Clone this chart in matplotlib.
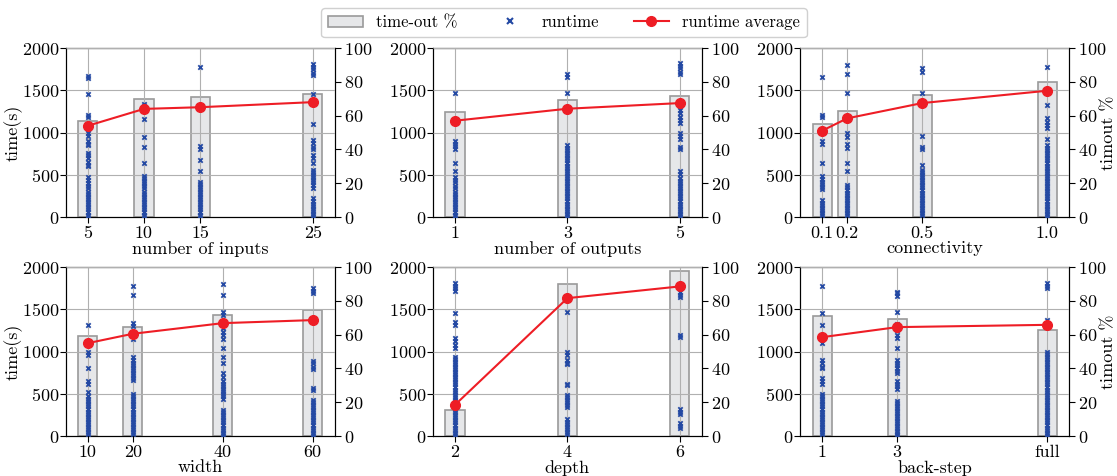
import numpy as np
import matplotlib
matplotlib.use("Agg")
from matplotlib import pyplot as plt
from matplotlib.patches import Patch
from matplotlib.lines import Line2D

plt.rcParams['font.family'] = ['cmr10', 'DejaVu Serif']
plt.rcParams['mathtext.fontset'] = 'cm'
plt.rcParams['axes.formatter.use_mathtext'] = True

# ---- data ----
labels = ["number of inputs", "number of outputs", "connectivity",
          "width", "depth", "back-step"]

inputs_x = [5, 10, 15, 25]
inputs_ticks = ["5", "10", "15", "25"]
inputs_avg = [1080, 1280, 1300, 1360]
inputs_timeout = [57, 70, 71, 73]
inputs_runtimes = [
    [1670, 1650, 1460, 1210, 1180, 1040, 1000, 960, 900, 870, 850, 760, 730, 700, 650, 620, 600,
     470, 440, 400, 370, 340, 300, 270, 240, 210, 180, 150, 120, 90, 60, 30, 10],
    [1340, 1310, 1160, 950, 830, 640, 490, 460, 430, 400, 370, 340, 300, 270, 240, 210, 180,
     150, 120, 90, 60, 30, 10],
    [1780, 840, 810, 680, 540, 420, 390, 360, 330, 300, 270, 240, 210, 180, 150, 120, 90, 60, 30, 10],
    [1810, 1780, 1750, 1700, 1680, 1460, 1100, 910, 880, 830, 800, 730, 700, 640, 560, 530, 500,
     470, 440, 410, 380, 340, 220, 190, 160, 130, 100, 70, 40, 10],
]

outputs_x = [1, 3, 5]
outputs_ticks = ["1", "3", "5"]
outputs_avg = [1140, 1282, 1349]
outputs_timeout = [62, 69, 71.6]
outputs_runtimes = [
    [1470, 900, 870, 840, 810, 640, 540, 470, 440, 410, 370, 340, 300, 270, 240, 210, 180, 150,
     120, 90, 60, 30, 10],
    [1690, 1660, 1470, 850, 820, 790, 760, 730, 700, 670, 640, 610, 580, 550, 520, 490, 460, 430,
     400, 370, 340, 310, 280, 250, 220, 190, 160, 130, 100, 70, 40, 10],
    [1820, 1790, 1760, 1720, 1690, 1310, 1270, 1230, 1190, 1150, 1110, 1000, 960, 920, 830, 800,
     550, 510, 460, 430, 400, 370, 340, 310, 280, 250, 220, 190, 160, 130, 100, 70, 40, 10],
]

conn_x = [0.1, 0.2, 0.5, 1.0]
conn_ticks = ["0.1", "0.2", "0.5", "1.0"]
conn_avg = [1022, 1168, 1349, 1495]
conn_timeout = [55, 63, 72.4, 80]
conn_runtimes = [
    [1660, 1210, 1180, 900, 870, 640, 480, 450, 420, 390, 360, 330, 200, 170, 140, 110, 80, 50, 20],
    [1800, 1690, 1470, 990, 950, 870, 820, 640, 540, 380, 350, 320, 290, 260, 230, 200, 170, 140,
     110, 80, 50, 20],
    [1760, 1720, 1470, 960, 830, 800, 620, 560, 530, 500, 470, 440, 410, 380, 350, 320, 290, 260,
     230, 200, 170, 140, 110, 80, 50, 20],
    [1780, 1330, 1170, 1130, 1090, 1050, 920, 850, 820, 790, 760, 730, 700, 670, 640, 610, 580,
     550, 520, 490, 460, 430, 400, 370, 340, 310, 280, 250, 220, 190, 160, 130, 100, 70, 40, 10],
]

width_x = [10, 20, 40, 60]
width_ticks = ["10", "20", "40", "60"]
width_avg = [1099, 1210, 1336, 1372]
width_timeout = [59, 64.6, 71.7, 74.5]
width_runtimes = [
    [1320, 1000, 960, 810, 650, 610, 520, 470, 440, 410, 380, 350, 320, 290, 260, 230, 200, 170,
     140, 110, 80, 50, 20],
    [1770, 1670, 1340, 1300, 1150, 930, 900, 870, 840, 810, 780, 750, 720, 690, 660, 500, 470,
     440, 410, 380, 350, 320, 290, 260, 230, 200, 170, 140, 110, 80, 50, 20],
    [1800, 1670, 1470, 1430, 1280, 1230, 1190, 1150, 1040, 940, 860, 740, 700, 650, 620, 590, 560,
     530, 500, 470, 440, 310, 280, 250, 220, 190, 160, 130, 100, 70, 40, 10],
    [1750, 1720, 1690, 890, 860, 820, 790, 570, 540, 430, 400, 370, 340, 310, 280, 250, 220, 190,
     160, 130, 100, 70, 40, 10],
]

depth_x = [2, 4, 6]
depth_ticks = ["2", "4", "6"]
depth_avg = [368, 1632, 1771]
depth_timeout = [15.2, 89.7, 97.8]
depth_runtimes = [
    [1810, 1780, 1750, 1720, 1460, 1350, 1320, 1160, 1120, 1080, 1040, 940, 910, 880, 850, 820,
     790, 760, 730, 700, 670, 640, 610, 580, 550, 520, 490, 460, 430, 400, 370, 340, 310, 280,
     250, 220, 190, 160, 130, 100, 70, 40, 10],
    [1470, 990, 960, 900, 870, 850, 620, 600, 490, 460, 430, 400, 370, 340, 200, 170, 140, 110,
     80, 50, 20],
    [1700, 1670, 1640, 1200, 1170, 320, 290, 260, 150, 120, 90],
]

back_x = [1, 3, 7]
back_ticks = ["1", "3", "full"]
back_avg = [1170, 1289, 1316]
back_timeout = [71, 69, 62.5]
back_runtimes = [
    [1770, 1460, 1320, 1100, 900, 870, 820, 800, 690, 650, 610, 500, 470, 440, 410, 380, 350, 320,
     290, 260, 230, 200, 170, 140, 110, 80, 50, 20],
    [1710, 1690, 1660, 1470, 1330, 1290, 1250, 1200, 1160, 1040, 900, 870, 840, 800, 770, 740, 650,
     620, 590, 560, 420, 390, 360, 330, 300, 270, 240, 210, 180, 150, 120, 90, 60, 30, 10],
    [1810, 1780, 1750, 1370, 1340, 1000, 970, 940, 910, 880, 850, 820, 790, 760, 730, 700, 670,
     640, 610, 580, 550, 520, 490, 460, 430, 400, 370, 340, 310, 280, 250, 220, 190, 160, 130,
     100, 70, 40, 10],
]

panels = [
    (inputs_x, inputs_ticks, inputs_avg, inputs_timeout, inputs_runtimes),
    (outputs_x, outputs_ticks, outputs_avg, outputs_timeout, outputs_runtimes),
    (conn_x, conn_ticks, conn_avg, conn_timeout, conn_runtimes),
    (width_x, width_ticks, width_avg, width_timeout, width_runtimes),
    (depth_x, depth_ticks, depth_avg, depth_timeout, depth_runtimes),
    (back_x, back_ticks, back_avg, back_timeout, back_runtimes),
]

bar_face = '#e6e7e9'
bar_edge = '#9a9a9a'
blue = '#2449a3'
red = '#ee1d25'

fig, axes = plt.subplots(2, 3, figsize=(11.17, 4.76), dpi=100)
fig.subplots_adjust(left=0.059, right=0.957, top=0.899, bottom=0.084, wspace=0.367, hspace=0.296)

for i, ax in enumerate(axes.flat):
    xs, ticks, avg, tout, runs = panels[i]
    w = 0.085 * (max(xs) - min(xs))
    ax2 = ax.twinx()
    ax.set_zorder(ax2.get_zorder() + 1)
    ax.patch.set_visible(False)

    ax2.bar(xs, tout, width=w, color=bar_face, edgecolor=bar_edge, linewidth=1.2, zorder=1)
    ax2.set_ylim(0, 100)
    ax2.set_yticks([0, 20, 40, 60, 80, 100])

    for x, r in zip(xs, runs):
        ax.scatter([x] * len(r), r, marker='x', s=10, color=blue, linewidths=1.3, zorder=3)
    ax.plot(xs, avg, '-o', color=red, lw=1.5, ms=7, zorder=4)

    ax.set_ylim(0, 2000)
    ax.set_yticks([0, 500, 1000, 1500, 2000])
    ax.set_xticks(xs)
    ax.set_xticklabels(ticks)
    ax.set_xlim(min(xs) - 0.097 * (max(xs) - min(xs)), max(xs) + 0.097 * (max(xs) - min(xs)))
    ax.grid(True, color='#b0b0b0', lw=0.8)
    ax.set_axisbelow(False)
    for a in (ax, ax2):
        a.tick_params(labelsize=13, length=4, pad=2.5)
    ax.tick_params(axis='y', pad=1)
    ax.tick_params(axis='x', pad=2)
    ax.set_xlabel(labels[i], fontsize=13, labelpad=0)
    if i % 3 == 0:
        ax.set_ylabel("time(s)", fontsize=13, labelpad=-1)
    if i % 3 == 2:
        ax2.set_ylabel("timout %", fontsize=13, labelpad=-4)

handles = [
    Patch(facecolor=bar_face, edgecolor=bar_edge, linewidth=1.2),
    Line2D([], [], marker='x', linestyle='none', color=blue, ms=4, mew=1.5),
    Line2D([], [], marker='o', color=red, lw=1.5, ms=7),
]
fig.legend(handles, ["time-out %", "runtime", "runtime average"], loc='upper center',
           bbox_to_anchor=(0.505, 1.0), ncol=3, fontsize=12, columnspacing=2.1,
           handlelength=2.1, handletextpad=0.8, framealpha=1, edgecolor='#d0d0d0')

plt.savefig("out.png")
